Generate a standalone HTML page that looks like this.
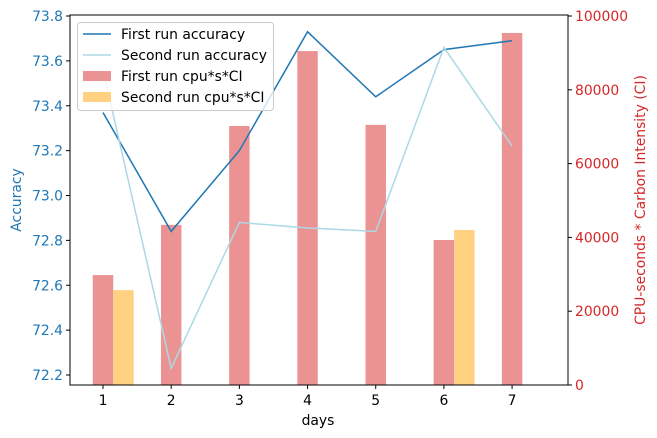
<!DOCTYPE html>
<html><head><meta charset="utf-8"><style>
body{margin:0;background:#fff}
svg{font-family:"DejaVu Sans","Liberation Sans",sans-serif;display:block}
</style></head><body>
<svg id="chart" width="657" height="438" viewBox="0 0 657 438"></svg>
<script>
const days=[1,2,3,4,5,6,7];
const acc1=[73.37,72.84,73.20,73.73,73.44,73.65,73.69];
const acc2=[73.56,72.23,72.88,72.855,72.84,73.66,73.22];
const ci1=[29800,43400,70200,90500,70500,39300,95400];
const ci2=[25700,0,0,0,0,42000,0];
const accTicks=[72.2,72.4,72.6,72.8,73.0,73.2,73.4,73.6,73.8];
const ciTicks=[0,20000,40000,60000,80000,100000];

const L=70,R=568,T=15,B=385;
const x=d=>L+(d-0.516)/(7.82-0.516)*(R-L);
const yA=v=>16+(73.8-v)/1.6*(375-16);
const yC=v=>385-v/100000*369;
const svg=document.getElementById('chart');
const NS='http://www.w3.org/2000/svg';
function mk(tag,attrs,parent){const e=document.createElementNS(NS,tag);for(const k in attrs)e.setAttribute(k,attrs[k]);(parent||svg).appendChild(e);return e;}
const bw=0.3*(R-L)/(7.82-0.516);
days.forEach((d,i)=>{
  const r=mk('rect',{x:x(d)-bw/2,y:yC(ci1[i]),width:bw,height:B-yC(ci1[i]),fill:'#eb9393'});
  
  
  if(ci2[i]>0){
    const r2=mk('rect',{x:x(d+0.3)-bw/2,y:yC(ci2[i]),width:bw,height:B-yC(ci2[i]),fill:'#ffd180'});
    
    
  }
});
const l1=mk('polyline',{points:days.map((d,i)=>x(d)+','+yA(acc1[i])).join(' '),fill:'none',stroke:'#1f77b4','stroke-width':1.5});


const l2=mk('polyline',{points:days.map((d,i)=>x(d)+','+yA(acc2[i])).join(' '),fill:'none',stroke:'#add8e6','stroke-width':1.5});


const frame=mk('rect',{x:L,y:T,width:R-L,height:B-T,fill:'none',stroke:'#000','stroke-width':1});


accTicks.forEach(v=>{
  mk('line',{x1:L-4,x2:L,y1:yA(v),y2:yA(v),stroke:'#000'});
  const t=mk('text',{x:L-7,y:yA(v)+5,'text-anchor':'end','font-size':13.9,fill:'#1f77b4'});
  t.textContent=v.toFixed(1);
  
  
});
ciTicks.forEach(v=>{
  mk('line',{x1:R,x2:R+4,y1:yC(v),y2:yC(v),stroke:'#000'});
  const t=mk('text',{x:R+7,y:yC(v)+5,'font-size':13.9,fill:'#d62728'});
  t.textContent=v;
  
  
});
days.forEach(d=>{
  mk('line',{x1:x(d),x2:x(d),y1:B,y2:B+4,stroke:'#000'});
  const t=mk('text',{x:x(d),y:B+20,'text-anchor':'middle','font-size':13.9});
  t.textContent=d;
  
  
});
</script>
<svg width="657" height="438" style="position:absolute;left:0;top:0" font-family="DejaVu Sans, Liberation Sans, sans-serif">
<text x="318" y="425" text-anchor="middle" font-size="13.9">days</text>
<text transform="translate(21,200) rotate(-90)" text-anchor="middle" font-size="13.9" fill="#1f77b4">Accuracy</text>
<text transform="translate(645,200) rotate(-90)" text-anchor="middle" font-size="13.9" fill="#d62728">CPU-seconds * Carbon Intensity (CI)</text>
<g>
<rect x="77.5" y="22.5" width="196" height="88" rx="3" fill="#fff" fill-opacity="0.8" stroke="#ccc"/>
<line x1="83" x2="111" y1="34" y2="34" stroke="#1f77b4" stroke-width="1.5"/>
<text x="121" y="39" font-size="13.9">First run accuracy</text>
<line x1="83" x2="111" y1="55" y2="55" stroke="#add8e6" stroke-width="1.5"/>
<text x="121" y="60" font-size="13.9">Second run accuracy</text>
<rect x="83" y="71" width="28" height="10" fill="#eb9393"/>
<text x="121" y="81" font-size="13.9">First run cpu*s*CI</text>
<rect x="83" y="92" width="28" height="10" fill="#ffd180"/>
<text x="121" y="102" font-size="13.9">Second run cpu*s*CI</text>
</g>
</svg>
</body></html>
